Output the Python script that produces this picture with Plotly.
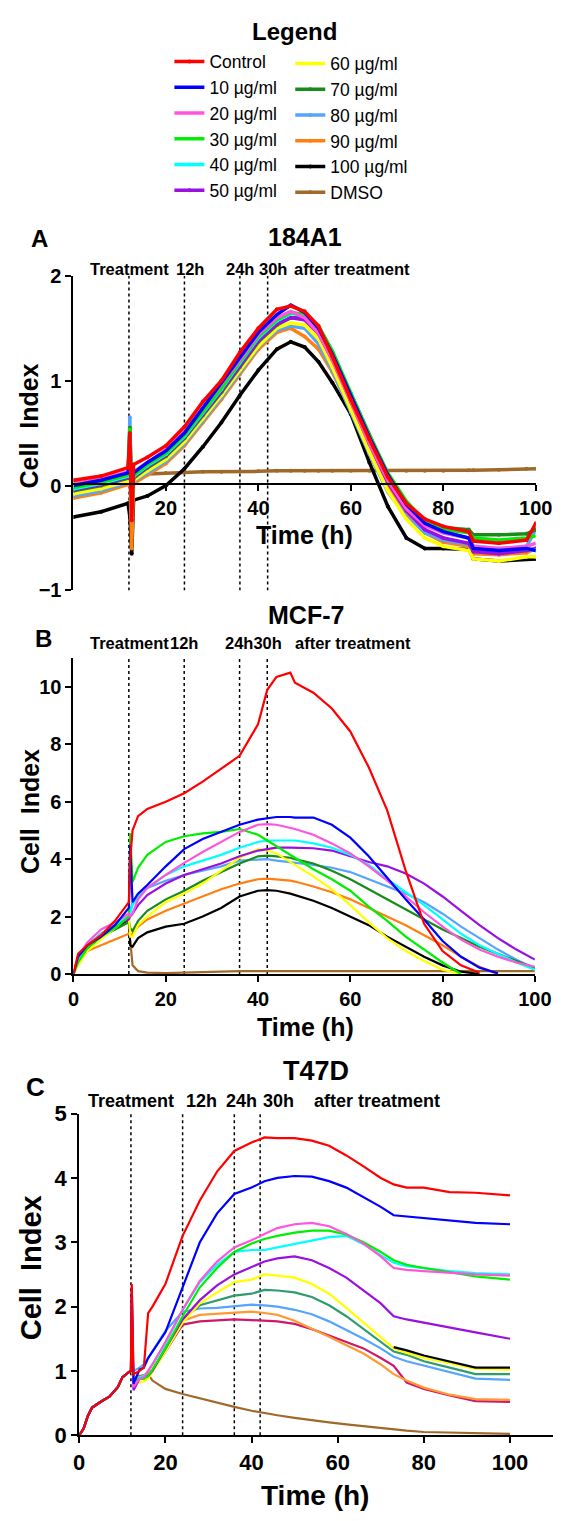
import plotly.graph_objects as go

# ---------------- data ----------------
series_names = ["Control", "10 µg/ml", "20 µg/ml", "30 µg/ml", "40 µg/ml", "50 µg/ml",
                "60 µg/ml", "70 µg/ml", "80 µg/ml", "90 µg/ml", "100 µg/ml", "DMSO"]

# Panel A: 184A1
tA = [0, 6, 11.8, 12.2, 12.6, 13.0, 16, 20, 24, 28, 32, 36, 40, 44, 47, 50, 53, 56, 60, 64, 68, 72, 76, 80, 85.5, 86.5, 92, 98, 100]
A_control = [0.05, 0.09, 0.17, 0.5, -0.33, 0.2, 0.27, 0.38, 0.56, 0.8, 1.0, 1.27, 1.5, 1.68, 1.71, 1.66, 1.52, 1.23, 0.82, 0.44, 0.08, -0.17, -0.32, -0.39, -0.44, -0.53, -0.55, -0.52, -0.36]
A_10 = [0.0, 0.05, 0.12, 0.3, -0.1, 0.12, 0.22, 0.33, 0.5, 0.74, 0.97, 1.22, 1.46, 1.63, 1.72, 1.65, 1.5, 1.25, 0.85, 0.46, 0.1, -0.18, -0.36, -0.44, -0.5, -0.6, -0.62, -0.6, -0.62]
A_20 = [0.02, 0.06, 0.13, 0.35, -0.1, 0.13, 0.22, 0.34, 0.51, 0.74, 0.96, 1.2, 1.44, 1.6, 1.66, 1.6, 1.45, 1.2, 0.8, 0.4, 0.05, -0.22, -0.38, -0.45, -0.5, -0.58, -0.6, -0.58, -0.55]
A_30 = [-0.02, 0.03, 0.1, 0.55, -0.2, 0.1, 0.2, 0.31, 0.48, 0.71, 0.93, 1.18, 1.42, 1.58, 1.65, 1.63, 1.52, 1.28, 0.88, 0.48, 0.12, -0.15, -0.34, -0.42, -0.45, -0.5, -0.52, -0.5, -0.48]
A_40 = [-0.03, 0.02, 0.09, 0.4, -0.15, 0.09, 0.19, 0.3, 0.47, 0.7, 0.92, 1.17, 1.41, 1.57, 1.64, 1.62, 1.52, 1.28, 0.88, 0.47, 0.1, -0.17, -0.36, -0.45, -0.5, -0.58, -0.6, -0.6, -0.62]
A_50 = [-0.04, 0.01, 0.08, 0.3, -0.1, 0.08, 0.18, 0.29, 0.46, 0.68, 0.9, 1.14, 1.38, 1.54, 1.6, 1.58, 1.45, 1.2, 0.8, 0.4, 0.03, -0.24, -0.42, -0.5, -0.55, -0.63, -0.65, -0.62, -0.6]
A_60 = [-0.08, -0.03, 0.04, 0.2, -0.15, 0.05, 0.14, 0.25, 0.42, 0.64, 0.86, 1.1, 1.33, 1.5, 1.55, 1.53, 1.4, 1.13, 0.72, 0.32, -0.05, -0.32, -0.5, -0.58, -0.62, -0.7, -0.72, -0.68, -0.68]
A_70 = [-0.05, 0.0, 0.07, 0.55, -0.2, 0.07, 0.17, 0.28, 0.45, 0.67, 0.89, 1.13, 1.37, 1.53, 1.6, 1.6, 1.5, 1.26, 0.87, 0.47, 0.1, -0.17, -0.33, -0.4, -0.42, -0.47, -0.47, -0.46, -0.42]
A_80 = [-0.1, -0.05, 0.03, 0.65, -0.25, 0.04, 0.12, 0.23, 0.4, 0.62, 0.84, 1.08, 1.32, 1.48, 1.52, 1.5, 1.35, 1.1, 0.7, 0.3, -0.06, -0.3, -0.45, -0.52, -0.56, -0.62, -0.62, -0.58, -0.42]
A_90 = [-0.12, -0.07, 0.01, 0.1, -0.6, 0.02, 0.1, 0.21, 0.38, 0.6, 0.82, 1.06, 1.3, 1.46, 1.5, 1.42, 1.3, 1.08, 0.72, 0.34, -0.02, -0.28, -0.45, -0.54, -0.58, -0.65, -0.66, -0.64, -0.6]
A_100 = [-0.3, -0.25, -0.17, -0.3, -0.65, -0.14, -0.1, 0.0, 0.16, 0.37, 0.6, 0.86, 1.1, 1.3, 1.37, 1.32, 1.18, 0.98, 0.68, 0.22, -0.2, -0.5, -0.6, -0.6, -0.61, -0.7, -0.72, -0.7, -0.7]
A_dmso = [None, None, None, 0.0, 0.04, 0.07, 0.11, 0.12, 0.125, 0.13, 0.13, 0.135, 0.135, 0.14, 0.14, 0.14, 0.14, 0.14, 0.14, 0.14, 0.14, 0.14, 0.14, 0.14, 0.145, 0.145, 0.15, 0.16, 0.16]

# Panel B: MCF-7
tB = [0, 1, 3, 6, 9, 12, 12.3, 12.8, 14, 16, 20, 24, 28, 32, 36, 40, 42, 44, 47, 48, 52, 56, 60, 64, 68, 72, 76, 80, 84, 88, 92, 96, 100]
B_control = [0, 0.7, 1.0, 1.35, 1.85, 2.5, 4.0, 5.0, 5.5, 5.75, 6.0, 6.3, 6.7, 7.15, 7.6, 8.7, 9.9, 10.35, 10.5, 10.15, 9.8, 9.25, 8.45, 7.2, 5.7, 3.6, 1.75, 0.8, 0.3, 0.04, None, None, None]
B_10 = [0, 0.6, 1.0, 1.3, 1.7, 2.3, 4.5, 2.5, 2.8, 3.1, 3.75, 4.35, 4.7, 4.95, 5.2, 5.38, 5.42, 5.47, 5.47, 5.45, 5.45, 5.2, 4.75, 4.1, 3.35, 2.6, 1.9, 1.15, 0.6, 0.22, 0.02, None, None]
B_20 = [0, 0.6, 1.1, 1.55, 1.8, 2.1, 2.0, 2.1, 2.6, 3.0, 3.45, 3.87, 4.25, 4.6, 4.95, 5.2, 5.22, 5.2, 5.1, 5.05, 4.85, 4.55, 4.2, 3.75, 3.25, 2.7, 2.15, 1.65, 1.2, 0.85, 0.6, 0.4, 0.25]
B_30 = [0, 0.4, 0.9, 1.3, 1.6, 2.0, 4.9, 3.2, 3.7, 4.15, 4.6, 4.8, 4.9, 4.95, 5.05, 4.85, 4.65, 4.45, 4.15, 4.05, 3.65, 3.3, 2.9, 2.35, 1.85, 1.3, 0.85, 0.4, 0.0, None, None, None, None]
B_40 = [0, 0.5, 1.0, 1.4, 1.7, 2.0, 2.1, 2.4, 2.7, 3.0, 3.45, 3.75, 3.95, 4.15, 4.4, 4.6, 4.65, 4.65, 4.65, 4.65, 4.55, 4.4, 4.15, 3.8, 3.3, 2.85, 2.4, 1.9, 1.4, 1.0, 0.7, 0.4, 0.15]
B_50 = [0, 0.5, 1.0, 1.4, 1.7, 1.9, 2.0, 2.1, 2.4, 2.75, 3.15, 3.45, 3.65, 3.85, 4.1, 4.3, 4.35, 4.4, 4.4, 4.4, 4.38, 4.3, 4.1, 3.9, 3.75, 3.5, 3.15, 2.7, 2.2, 1.7, 1.25, 0.85, 0.5]
B_60 = [0, 0.3, 0.8, 1.2, 1.6, 2.0, 1.3, 1.3, 1.7, 2.0, 2.5, 2.8, 3.15, 3.6, 4.05, 4.35, 4.3, 4.2, 3.9, 3.8, 3.4, 2.95, 2.4, 1.8, 1.25, 0.8, 0.45, 0.15, 0.0, None, None, None, None]
B_70 = [0, 0.5, 0.95, 1.3, 1.55, 1.8, 1.6, 1.5, 1.85, 2.2, 2.6, 2.9, 3.25, 3.55, 3.85, 4.1, 4.12, 4.1, 4.05, 4.0, 3.85, 3.6, 3.3, 2.95, 2.6, 2.25, 1.9, 1.55, 1.25, 0.95, 0.7, 0.45, 0.2]
B_80 = [0, 0.5, 1.0, 1.4, 1.7, 2.0, 2.2, 2.5, 2.8, 3.0, 3.25, 3.45, 3.6, 3.75, 3.95, 4.0, 4.0, 3.95, 3.9, 3.88, 3.8, 3.7, 3.55, 3.3, 3.05, 2.8, 2.5, 2.1, 1.65, 1.25, 0.85, 0.5, 0.2]
B_90 = [0, 0.5, 0.8, 1.0, 1.2, 1.4, 1.35, 1.4, 1.65, 1.9, 2.2, 2.45, 2.7, 2.95, 3.15, 3.3, 3.32, 3.3, 3.25, 3.22, 3.05, 2.85, 2.6, 2.3, 2.0, 1.7, 1.35, 1.0, 0.6, 0.25, 0.0, None, None]
B_100 = [0, 0.5, 0.9, 1.3, 1.6, 1.9, 1.0, 0.95, 1.25, 1.45, 1.65, 1.75, 2.0, 2.3, 2.7, 2.9, 2.92, 2.9, 2.8, 2.75, 2.55, 2.3, 2.0, 1.7, 1.3, 0.95, 0.6, 0.3, 0.08, 0.0, None, None, None]
B_dmso = [None, None, None, None, None, None, 1.2, 0.3, 0.1, 0.05, 0.03, 0.05, 0.08, 0.09, 0.1, 0.1, 0.1, 0.1, 0.1, 0.1, 0.1, 0.1, 0.1, 0.1, 0.1, 0.1, 0.1, 0.1, 0.1, 0.1, 0.1, 0.1, 0.1]

# Panel C: T47D
tC = [0, 1, 2, 3, 5, 7, 9, 10, 11.5, 12, 12.2, 12.6, 14, 15, 16, 17, 20, 24, 28, 32, 36, 40, 43, 46, 50, 54, 58, 62, 66, 70, 73, 76, 80, 86, 92, 100]
C_control = [0, 0.1, 0.3, 0.43, 0.52, 0.6, 0.75, 0.9, 0.98, 1.0, 2.35, 0.95, 1.0, 1.05, 1.9, 2.0, 2.35, 3.1, 3.65, 4.1, 4.42, 4.55, 4.63, 4.62, 4.62, 4.58, 4.5, 4.35, 4.18, 4.0, 3.9, 3.85, 3.85, 3.78, 3.77, 3.73]
C_10 = [0, 0.1, 0.3, 0.43, 0.52, 0.6, 0.75, 0.9, 0.98, 1.0, 2.3, 0.8, 1.02, 1.05, 1.2, 1.3, 1.6, 2.3, 3.0, 3.45, 3.75, 3.85, 3.95, 4.0, 4.03, 4.02, 3.95, 3.85, 3.7, 3.55, 3.42, 3.4, 3.38, 3.33, 3.3, 3.28]
C_20 = [0, 0.1, 0.3, 0.43, 0.52, 0.6, 0.75, 0.9, 0.98, 1.0, 2.0, 0.75, 0.88, 0.9, 1.0, 1.1, 1.45, 1.95, 2.4, 2.7, 2.92, 3.03, 3.13, 3.22, 3.28, 3.3, 3.25, 3.13, 2.98, 2.78, 2.6, 2.57, 2.55, 2.52, 2.5, 2.48]
C_30 = [0, 0.1, 0.3, 0.43, 0.52, 0.6, 0.75, 0.9, 0.98, 1.0, 1.5, 0.85, 0.88, 0.88, 0.92, 1.02, 1.35, 1.85, 2.3, 2.6, 2.85, 2.98, 3.05, 3.1, 3.15, 3.18, 3.18, 3.12, 3.0, 2.85, 2.72, 2.65, 2.6, 2.53, 2.47, 2.42]
C_40 = [0, 0.1, 0.3, 0.43, 0.52, 0.6, 0.75, 0.9, 0.98, 1.0, 1.3, 0.85, 0.9, 0.92, 1.0, 1.1, 1.42, 1.95, 2.38, 2.65, 2.85, 2.88, 2.88, 2.92, 2.97, 3.02, 3.08, 3.1, 2.97, 2.8, 2.68, 2.63, 2.6, 2.55, 2.52, 2.5]
C_50 = [0, 0.1, 0.3, 0.43, 0.52, 0.6, 0.75, 0.9, 0.98, 1.0, 2.2, 0.7, 0.88, 0.9, 0.92, 1.0, 1.35, 1.8, 2.1, 2.33, 2.5, 2.62, 2.7, 2.75, 2.78, 2.72, 2.6, 2.45, 2.25, 2.05, 1.85, 1.8, 1.75, 1.68, 1.6, 1.5]
C_60 = [0, 0.1, 0.3, 0.43, 0.52, 0.6, 0.75, 0.9, 0.98, 1.0, 1.2, 0.8, 0.82, 0.84, 0.88, 0.98, 1.3, 1.75, 2.05, 2.22, 2.38, 2.42, 2.5, 2.48, 2.45, 2.35, 2.2, 1.98, 1.75, 1.52, 1.35, 1.28, 1.2, 1.12, 1.03, 1.02]
C_70 = [0, 0.1, 0.3, 0.43, 0.52, 0.6, 0.75, 0.9, 0.98, 1.0, 1.1, 0.85, 0.87, 0.88, 0.92, 1.0, 1.35, 1.8, 2.02, 2.1, 2.17, 2.2, 2.26, 2.25, 2.22, 2.15, 2.02, 1.85, 1.65, 1.45, 1.3, 1.25, 1.15, 1.05, 0.95, 0.95]
C_80 = [0, 0.1, 0.3, 0.43, 0.52, 0.6, 0.75, 0.9, 0.98, 1.0, 1.2, 1.0, 1.05, 1.1, 1.2, 1.3, 1.62, 1.92, 1.97, 1.98, 2.0, 2.03, 2.02, 2.0, 1.95, 1.88, 1.77, 1.64, 1.5, 1.35, 1.22, 1.15, 1.08, 0.98, 0.88, 0.86]
C_90 = [0, 0.1, 0.3, 0.43, 0.52, 0.6, 0.75, 0.9, 0.98, 1.0, 1.1, 0.9, 0.9, 0.92, 0.96, 1.02, 1.32, 1.78, 1.87, 1.89, 1.91, 1.92, 1.9, 1.87, 1.78, 1.66, 1.53, 1.4, 1.27, 1.1, 0.95, 0.85, 0.74, 0.63, 0.56, 0.55]
C_crimson = [0, 0.1, 0.3, 0.43, 0.52, 0.6, 0.75, 0.9, 0.98, 1.0, 1.1, 0.85, 0.88, 0.88, 0.92, 1.0, 1.3, 1.72, 1.77, 1.79, 1.8, 1.79, 1.78, 1.77, 1.73, 1.65, 1.55, 1.45, 1.35, 1.2, 1.08, 0.82, 0.72, 0.62, 0.53, 0.52]
C_100 = [None] * 30 + [1.37, 1.32, 1.24, 1.15, 1.05, 1.05]
C_dmso = [0, 0.1, 0.3, 0.43, 0.52, 0.6, 0.75, 0.9, 0.98, 1.0, 1.05, 0.9, 0.92, 0.93, 0.95, 0.85, 0.72, 0.64, 0.57, 0.5, 0.44, 0.38, 0.34, 0.31, 0.27, 0.23, 0.2, 0.17, 0.14, 0.11, 0.09, 0.07, 0.05, 0.04, 0.03, 0.02]

marker_lines = [0, 4, 5, 6, 7, 8, 9, 10, 11]  # legend entries shown with a dot
colors = ["#FF0000", "#0000FF", "#FF55DD", "#00EE00", "#00FFFF", "#9A10E0",
          "#FFFF00", "#1A8A1A", "#55A5FF", "#FF8010", "#000000", "#A0692A"]
colorsC = ["#FF0000", "#0000FF", "#FF55DD", "#00EE00", "#00FFFF", "#9A10E0",
           "#FFFF00", "#2E9C6E", "#55A5FF", "#FF9933", "#000000", "#A0692A"]
crimson = "#D0186A"

vlines = [12, 24, 36, 42]

# ---------------- figure ----------------
# the page body has an 8px margin, so the figure is drawn 8px in from the top-left
OFF = 8
W, H = 572 - OFF, 1521 - OFF
def px(x):
    return (x - OFF) / W
def py(y):
    return 1 - (y - OFF) / H

FONT = "Arial, Liberation Sans, sans-serif"
fig = go.Figure()

A_data = [A_control, A_10, A_20, A_30, A_40, A_50, A_60, A_70, A_80, A_90, A_100, A_dmso]
B_data = [B_control, B_10, B_20, B_30, B_40, B_50, B_60, B_70, B_80, B_90, B_100, B_dmso]
C_data = [C_control, C_10, C_20, C_30, C_40, C_50, C_60, C_70, C_80, C_90, C_100, C_dmso]

orderA = [11, 10, 9, 8, 6, 7, 5, 4, 3, 2, 1, 0]
for i in orderA:
    fig.add_trace(go.Scatter(
        x=tA, y=A_data[i], name=series_names[i], xaxis="x", yaxis="y",
        mode="lines+markers" if i in marker_lines else "lines",
        line=dict(color=colors[i], width=3.5),
        marker=dict(size=4, color=colors[i]),
        legend="legend" if i < 6 else "legend2",
        legendrank=i, showlegend=True))

orderB = [11, 10, 9, 8, 7, 6, 5, 4, 3, 2, 1, 0]
for i in orderB:
    fig.add_trace(go.Scatter(
        x=tB, y=B_data[i], name=series_names[i], xaxis="x2", yaxis="y2",
        mode="lines", line=dict(color=colors[i], width=2.2), showlegend=False))

orderC = [11, 9, 8, 7, 6, 10, 5, 4, 3, 2, 1, 0]
fig.add_trace(go.Scatter(x=tC, y=C_crimson, name="100 µg/ml", xaxis="x3", yaxis="y3",
                         mode="lines", line=dict(color=crimson, width=2.2), showlegend=False))
for i in orderC:
    fig.add_trace(go.Scatter(
        x=tC, y=C_data[i], name=series_names[i], xaxis="x3", yaxis="y3",
        mode="lines", line=dict(color=colorsC[i], width=2.2), showlegend=False))

tickfontA = dict(family=FONT, size=20, color="black", weight="bold")
tickfontC = dict(family=FONT, size=22, color="black", weight="bold")
axis_common = dict(showgrid=False, zeroline=False, showline=True, linecolor="black",
                   linewidth=2, ticks="outside", ticklen=6, tickwidth=2, tickcolor="black")

fig.update_layout(
    width=W, height=H, margin=dict(l=0, r=0, t=0, b=0),
    paper_bgcolor="white", plot_bgcolor="white",
    xaxis=dict(domain=[px(70), px(552)], range=[0, 100], anchor="free", position=py(480),
               tickvals=[20, 40, 60, 80, 100], tickfont=tickfontA, **axis_common),
    yaxis=dict(domain=[py(588), py(268)], range=[-1, 2], anchor="x",
               tickvals=[-1, 0, 1, 2], tickfont=tickfontA, **axis_common),
    xaxis2=dict(domain=[px(70), px(551)], range=[0, 100], anchor="y2",
                tickvals=[0, 20, 40, 60, 80, 100], tickfont=tickfontA, **axis_common),
    yaxis2=dict(domain=[py(978), py(657)], range=[0, 11], anchor="x2",
                tickvals=[0, 2, 4, 6, 8, 10], tickfont=tickfontA, **axis_common),
    xaxis3=dict(domain=[px(76), px(570)], range=[0, 110], anchor="y3",
                tickvals=[0, 20, 40, 60, 80, 100], tickfont=tickfontC, **axis_common),
    yaxis3=dict(domain=[py(1447), py(1120)], range=[0, 5], anchor="x3",
                tickvals=[0, 1, 2, 3, 4, 5], tickfont=tickfontC, **axis_common),
    legend=dict(x=px(170), y=py(32), xanchor="left", yanchor="top",
                font=dict(family=FONT, size=17.5, color="black"), bgcolor="rgba(0,0,0,0)",
                traceorder="normal", tracegroupgap=0),
    legend2=dict(x=px(296), y=py(34), xanchor="left", yanchor="top",
                 font=dict(family=FONT, size=17.5, color="black"), bgcolor="rgba(0,0,0,0)",
                 traceorder="normal", tracegroupgap=0),
    showlegend=True,
)

shapes = []
for xr, yr, y0, y1 in [("x", "y", -1, 2), ("x2", "y2", 0, 11), ("x3", "y3", 0, 5)]:
    for v in vlines:
        shapes.append(dict(type="line", xref=xr, yref=yr, x0=v, x1=v, y0=y0, y1=y1,
                           line=dict(color="black", width=1.5, dash="dot"), layer="below"))
fig.update_layout(shapes=shapes)

def ann(text, x, y, size, angle=0, bold=True):
    fig.add_annotation(text=text, x=px(x), y=py(y), xref="paper", yref="paper",
                       showarrow=False, textangle=angle, xanchor="center", yanchor="middle",
                       font=dict(family=FONT, size=size, color="black",
                                 weight="bold" if bold else "normal"))

ann("Legend", 300, 20, 24)
# panel A
ann("A", 35, 230, 24)
ann("184A1", 311, 229, 25)
ann("Treatment", 128, 261, 16.5)
ann("12h", 191, 261, 16.5)
ann("24h", 244, 261, 16.5)
ann("30h", 278, 261, 16.5)
ann("after treatment", 360, 261, 16.5)
ann("Cell\u00a0\u00a0Index", 24, 421, 25, angle=-90)
ann("Time (h)", 311, 532, 25)
# panel B
ann("B", 39, 637, 24)
ann("MCF-7", 312, 613, 25)
ann("Treatment", 128, 641, 16.5)
ann("12h", 185, 641, 16.5)
ann("24h30h", 258, 641, 16.5)
ann("after treatment", 361, 641, 16.5)
ann("Cell\u00a0\u00a0Index", 24, 813, 25, angle=-90)
ann("Time (h)", 312, 1032, 25)
# panel C
ann("C", 30, 1093, 26)
ann("T47D", 323, 1077, 27)
ann("Treatment", 130, 1107, 18)
ann("12h", 203, 1107, 18)
ann("24h", 245, 1107, 18)
ann("30h", 284, 1107, 18)
ann("after treatment", 386, 1107, 18)
ann("Cell\u00a0\u00a0Index", 26, 1277, 29, angle=-90)
ann("Time (h)", 322, 1508, 28)

fig.write_html("out.html")
